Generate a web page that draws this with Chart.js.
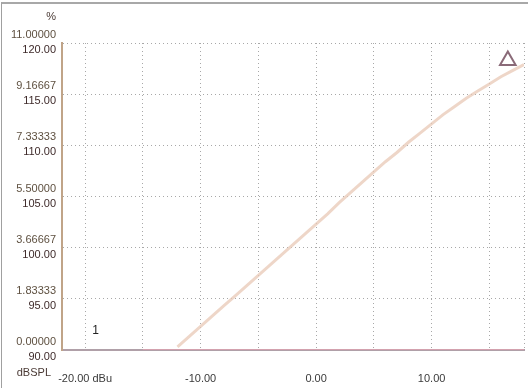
<!DOCTYPE html>
<html>
<head>
    <title>Level sweep</title>
    <script src="https://cdn.jsdelivr.net/npm/chart.js"></script>
    <style>
        body { margin: 0; background: #fff; }
        #wrap { position: relative; width: 528px; height: 388px; }
        #frame { position: absolute; left: 1px; top: 2px; right: 0; bottom: 0;
                 border-left: 1px solid #a0a0a0; border-top: 2px solid #a8a8a8; pointer-events: none; }
    </style>
</head>
<body>
<div id="wrap">
    <canvas id="chart" width="528" height="388"></canvas>
    <div id="frame"></div>
</div>
<script>
// input level (dBu) vs output level (dBSPL)
const inputLevels = [-12, -11, -10, -9, -8, -7, -6, -5, -4, -3, -2, -1, 0, 1, 2, 3, 4, 5,
                     6, 7, 8, 9, 10, 11, 12, 13, 14, 15, 16, 17, 18];
const splValues = [90.3, 91.3, 92.3, 93.3, 94.3, 95.3, 96.3, 97.3, 98.3, 99.3, 100.3, 101.3,
                   102.3, 103.3, 104.4, 105.4, 106.4, 107.4, 108.4, 109.3, 110.3, 111.2,
                   112.1, 113.0, 113.8, 114.6, 115.3, 116.0, 116.7, 117.3, 117.9];
// distortion trace (%), sits on the floor
const thdLevels = [-15, -10, -5, 0, 5, 10, 15, 18];
const thdValues = [0, 0, 0, 0, 0, 0, 0, 0];
// cursor marker
const cursorPoint = [{ x: 16.6, y: 118.3 }];
const cursorLabel = { text: '1', x: -19.1, y: 91.9 };

const xTicks = [-20, -15, -10, -5, 0, 5, 10, 15, 18];
const xTickLabels = { '-20': '-20.00 dBu', '-10': '-10.00', '0': '0.00', '10': '10.00' };
const yTicks = [90, 95, 100, 105, 110, 115, 120];
const pctLabels = ['0.00000', '1.83333', '3.66667', '5.50000', '7.33333', '9.16667', '11.00000'];
const dbLabels = ['90.00', '95.00', '100.00', '105.00', '110.00', '115.00', '120.00'];

const FONT = '"Liberation Sans", Arial, sans-serif';

const extras = {
    id: 'extras',
    afterDraw(chart) {
        const { ctx, chartArea, scales } = chart;
        ctx.save();
        ctx.font = '11px ' + FONT;
        ctx.textAlign = 'right';
        ctx.textBaseline = 'middle';
        yTicks.forEach((v, i) => {
            const py = scales.y.getPixelForValue(v);
            ctx.fillStyle = '#5e5040';
            ctx.fillText(pctLabels[i], chartArea.left - 6, py - 8);
            ctx.fillStyle = '#3e2a2a';
            ctx.fillText(dbLabels[i], chartArea.left - 6, py + 7);
        });
        ctx.fillStyle = '#4a3a35';
        ctx.fillText('%', chartArea.left - 6, chartArea.top - 26);
        ctx.fillText('dBSPL', chartArea.left - 11, chartArea.bottom + 23);
        ctx.textAlign = 'center';
        ctx.fillStyle = '#222';
        ctx.font = '12px ' + FONT;
        ctx.fillText(cursorLabel.text, scales.x.getPixelForValue(cursorLabel.x),
                     scales.y.getPixelForValue(cursorLabel.y));
        ctx.restore();
    }
};

new Chart(document.getElementById('chart'), {
    type: 'scatter',
    data: {
        datasets: [
            {
                data: thdLevels.map((x, i) => ({ x, y: thdValues[i] })),
                yAxisID: 'y2',
                showLine: true,
                borderColor: '#d3a1ae',
                borderWidth: 2,
                pointRadius: 0
            },
            {
                data: inputLevels.map((x, i) => ({ x, y: splValues[i] })),
                showLine: true,
                borderColor: 'rgba(232,200,182,0.75)',
                borderWidth: 3,
                pointRadius: 0
            },
            {
                data: cursorPoint,
                pointStyle: 'triangle',
                pointRadius: 9,
                pointBackgroundColor: '#fff',
                pointBorderColor: '#8a6a78',
                pointBorderWidth: 2
            }
        ]
    },
    options: {
        responsive: false,
        animation: false,
        layout: { autoPadding: false, padding: { top: 43, right: 4, left: 0, bottom: 0 } },
        plugins: { legend: { display: false }, tooltip: { enabled: false } },
        scales: {
            x: {
                type: 'linear',
                min: -22,
                max: 18,
                afterBuildTicks: s => { s.ticks = xTicks.map(v => ({ value: v })); },
                afterFit: s => { s.height = 38; s.paddingLeft = 0; s.paddingRight = 0; },
                ticks: {
                    autoSkip: false,
                    maxRotation: 0,
                    padding: 22,
                    color: '#3a3a3a',
                    font: { family: FONT, size: 11 },
                    callback: v => xTickLabels[String(v)] || ''
                },
                grid: { color: 'rgba(110,110,110,0.6)', drawTicks: false, tickLength: 0 },
                border: { color: '#b0a0a8', dash: [1, 3], width: 2 }
            },
            y: {
                min: 90,
                max: 120,
                afterBuildTicks: s => { s.ticks = yTicks.map(v => ({ value: v })); },
                afterFit: s => { s.width = 62; },
                ticks: { display: false },
                grid: { color: 'rgba(110,110,110,0.6)', drawTicks: false, tickLength: 0 },
                border: { color: '#c0a488', dash: [1, 3], width: 2 }
            },
            y2: { display: false, min: 0, max: 11 }
        }
    },
    plugins: [extras]
});
</script>
</body>
</html>
